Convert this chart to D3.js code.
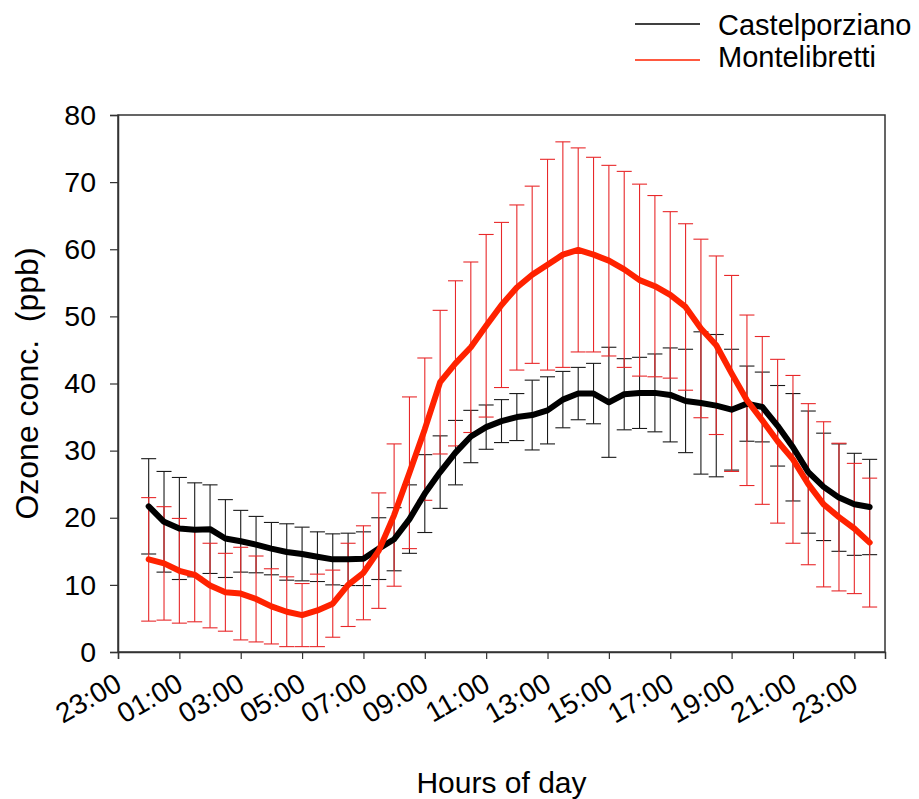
<!DOCTYPE html>
<html>
<head>
<meta charset="utf-8">
<script src="https://cdn.jsdelivr.net/npm/d3@7"></script>
<style>
  body { margin: 0; background: #fff; }
  text { font-family: Arial, "Liberation Sans", sans-serif; fill: #000; }
</style>
</head>
<body>
<div id="chart"></div>
<script>

// hours of day (half hour steps)
const hours = [0, 0.5, 1, 1.5, 2, 2.5, 3, 3.5, 4, 4.5, 5, 5.5, 6, 6.5, 7, 7.5,
    8, 8.5, 9, 9.5, 10, 10.5, 11, 11.5, 12, 12.5, 13, 13.5, 14, 14.5, 15, 15.5,
    16, 16.5, 17, 17.5, 18, 18.5, 19, 19.5, 20, 20.5, 21, 21.5, 22, 22.5, 23, 23.5];

// Castelporziano mean and sd
const castelMean = [21.7, 19.4, 18.4, 18.2, 18.3, 16.9, 16.5, 16.0, 15.4, 14.9, 14.6, 14.2,
    13.8, 13.8, 13.9, 15.4, 16.8, 19.8, 23.6, 26.8, 29.7, 32.1, 33.5, 34.4,
    35.0, 35.3, 36.0, 37.6, 38.5, 38.5, 37.2, 38.4, 38.6, 38.6, 38.3, 37.4,
    37.1, 36.7, 36.1, 37.0, 36.5, 33.7, 30.5, 26.8, 24.6, 23.0, 22.0, 21.6];
const castelSd = [7.1, 7.5, 7.6, 7.0, 6.6, 5.8, 4.6, 4.2, 3.9, 4.2, 4.0, 3.7,
    3.8, 3.9, 4.0, 4.6, 4.7, 5.1, 5.8, 5.4, 4.8, 3.9, 3.3, 3.2,
    3.5, 5.2, 5.0, 4.2, 3.9, 4.5, 8.2, 5.3, 5.3, 5.8, 7.0, 7.7,
    10.6, 10.6, 9.0, 5.6, 5.2, 6.0, 8.0, 9.1, 8.0, 8.0, 7.6, 7.1];

// Montelibretti mean and sd
const monteMean = [13.8, 13.2, 12.1, 11.5, 9.9, 8.9, 8.7, 7.9, 6.8, 6.0, 5.5, 6.2,
    7.2, 10.0, 11.8, 15.1, 20.4, 26.7, 33.2, 40.2, 43.0, 45.4, 48.6, 51.7,
    54.3, 56.2, 57.7, 59.2, 59.9, 59.2, 58.3, 57.0, 55.4, 54.5, 53.2, 51.4,
    48.2, 45.7, 41.5, 37.5, 34.5, 31.4, 28.7, 25.0, 22.0, 20.1, 18.4, 16.3];
const monteSd = [9.2, 8.45, 7.8, 7.0, 6.3, 5.8, 6.9, 6.4, 5.6, 5.2, 4.7, 5.4,
    5.0, 6.2, 7.0, 8.6, 10.6, 11.3, 10.6, 10.7, 12.3, 12.7, 13.6, 12.3,
    12.3, 13.2, 15.7, 16.8, 15.2, 14.5, 14.2, 14.6, 14.3, 13.5, 12.4, 12.4,
    13.3, 13.3, 14.6, 12.7, 12.5, 12.2, 12.5, 12.0, 12.3, 11.0, 9.7, 9.6];

// axis ticks
const xTicks = [-1, 1, 3, 5, 7, 9, 11, 13, 15, 17, 19, 21, 23];
const xTickLabels = ["23:00", "01:00", "03:00", "05:00", "07:00", "09:00", "11:00",
    "13:00", "15:00", "17:00", "19:00", "21:00", "23:00"];
const yTicks = [0, 10, 20, 30, 40, 50, 60, 70, 80];

const series = [
    {name: "Castelporziano", mean: castelMean, sd: castelSd, line: "#000000", bar: "#1a1a1a"},
    {name: "Montelibretti", mean: monteMean, sd: monteSd, line: "#ff2200", bar: "#e8282a"}
];

// dimensions
var margin = {top: 115, right: 34, bottom: 147, left: 118},
    fullW = 919, fullH = 799,
    width = fullW - margin.left - margin.right,
    height = fullH - margin.top - margin.bottom;

let svg = d3.select("#chart")
    .append("svg")
    .attr("width", fullW)
    .attr("height", fullH);

let g = svg.append("g")
    .attr("transform", "translate(" + margin.left + "," + margin.top + ")");

// scales
var xScale = d3.scaleLinear().domain([-1, 24]).range([0, width]);
var yScale = d3.scaleLinear().domain([0, 80]).range([height, 0]);

// frame
g.append("rect")
    .attr("x", 0).attr("y", 0)
    .attr("width", width).attr("height", height)
    .attr("fill", "none")
    .attr("stroke", "#333")
    .attr("stroke-width", 1.5);

// y axis
var yAxis = g.append("g")
    .call(d3.axisLeft(yScale).tickValues(yTicks).tickSize(8).tickPadding(14));
yAxis.select(".domain").attr("stroke", "#333").attr("stroke-width", 1.5);
yAxis.selectAll(".tick line").attr("stroke", "#333").attr("stroke-width", 1.2);
yAxis.selectAll(".tick text")
    .attr("font-size", 28.5)
    .attr("fill", "#000")
    .style("font-family", "Arial, 'Liberation Sans', sans-serif");

// x axis
var xAxis = g.append("g")
    .attr("transform", "translate(0," + height + ")")
    .call(d3.axisBottom(xScale).tickValues(xTicks).tickSize(7)
        .tickFormat((d, i) => xTickLabels[i]));
xAxis.select(".domain").attr("stroke", "#333").attr("stroke-width", 1.5);
xAxis.selectAll(".tick line").attr("stroke", "#333").attr("stroke-width", 1.2);
xAxis.selectAll(".tick text")
    .attr("font-size", 28)
    .attr("fill", "#000")
    .attr("text-anchor", "end")
    .attr("x", 0).attr("y", 0).attr("dy", 0)
    .attr("transform", "translate(5,37) rotate(-30)")
    .style("font-family", "Arial, 'Liberation Sans', sans-serif");

// error bars
var cap = 7.5;
series.forEach(s => {
    var eb = g.append("g").attr("stroke", s.bar).attr("stroke-width", 1.1).attr("fill", "none");
    hours.forEach((h, i) => {
        var x = xScale(h),
            y1 = yScale(s.mean[i] + s.sd[i]),
            y0 = yScale(s.mean[i] - s.sd[i]);
        eb.append("line").attr("x1", x).attr("x2", x).attr("y1", y1).attr("y2", y0);
        eb.append("line").attr("x1", x - cap).attr("x2", x + cap).attr("y1", y1).attr("y2", y1);
        eb.append("line").attr("x1", x - cap).attr("x2", x + cap).attr("y1", y0).attr("y2", y0);
    });
});

// mean lines
var line = d3.line()
    .x(d => xScale(d[0]))
    .y(d => yScale(d[1]));
series.forEach(s => {
    g.append("path")
        .datum(hours.map((h, i) => [h, s.mean[i]]))
        .attr("d", line)
        .attr("fill", "none")
        .attr("stroke", s.line)
        .attr("stroke-width", 6)
        .attr("stroke-linejoin", "round")
        .attr("stroke-linecap", "round");
});

// axis titles
svg.append("text")
    .text("Ozone conc.  (ppb)")
    .attr("font-size", 32)
    .attr("text-anchor", "middle")
    .style("white-space", "pre")
    .attr("transform", "translate(38," + (margin.top + height / 2) + ") rotate(-90)");

svg.append("text")
    .text("Hours of day")
    .attr("font-size", 30)
    .attr("text-anchor", "middle")
    .attr("x", margin.left + width / 2)
    .attr("y", 793);

// legend
var legend = svg.append("g").attr("transform", "translate(635,0)");
series.forEach((s, i) => {
    legend.append("line")
        .attr("x1", 0).attr("x2", 65)
        .attr("y1", 24 + i * 36).attr("y2", 24 + i * 36)
        .attr("stroke", s.line)
        .attr("stroke-width", 1.5);
    legend.append("text")
        .text(s.name)
        .attr("x", 83)
        .attr("y", 35 + i * 32)
        .attr("font-size", 29);
});

</script>
</body>
</html>
